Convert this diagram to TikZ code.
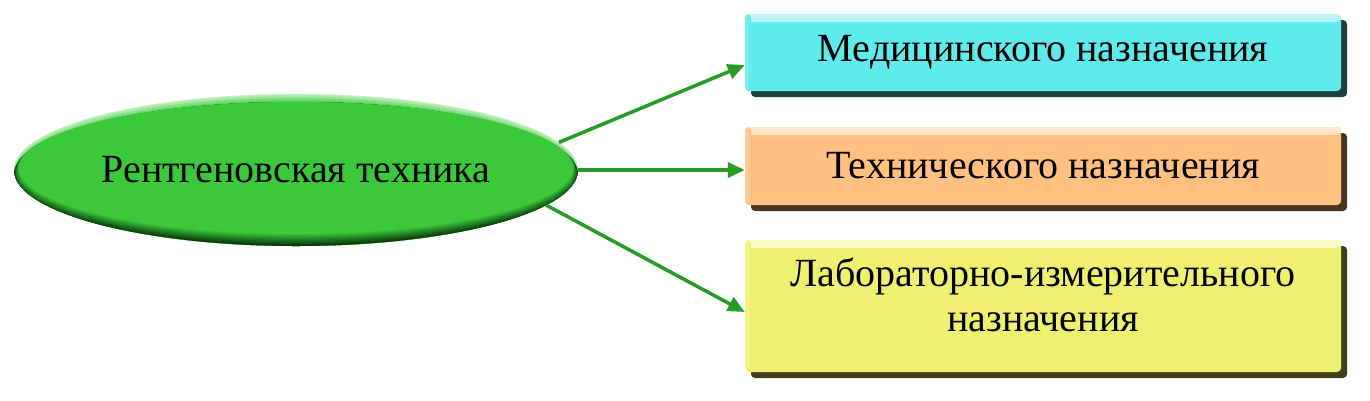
\documentclass[tikz,border=0pt]{standalone}
\usepackage{fontspec}
\setmainfont{Liberation Serif}
\usetikzlibrary{shapes.geometric,arrows.meta,shadows}
\definecolor{cyanface}{HTML}{5EEBEB}
\definecolor{cyandark}{HTML}{1E4040}
\definecolor{orface}{HTML}{FFC080}
\definecolor{ordark}{HTML}{4A3520}
\definecolor{yeface}{HTML}{F0F070}
\definecolor{yedark}{HTML}{3F3F1E}
\definecolor{gface}{HTML}{3BC93B}
\definecolor{gdark}{HTML}{0A380A}
\definecolor{glight}{HTML}{C0F0C0}
\definecolor{garrow}{HTML}{289A28}
\begin{document}
\begin{tikzpicture}[x=1pt,y=-1pt,
  labelfont/.style={font=\fontsize{40}{45}\selectfont, align=center},
  boxstyle/.style={rectangle, rounded corners=4pt, inner sep=0pt, minimum width=596pt,
    fill=#1face, labelfont,
    drop shadow={shadow xshift=6pt, shadow yshift=-6pt, fill=#1dark, opacity=1},
    path picture={\shade[top color=white!60!#1face, bottom color=#1face]
      (path picture bounding box.north west) rectangle ([yshift=-8pt]path picture bounding box.north east);
      \shade[left color=white!20!#1face, right color=#1face]
      (path picture bounding box.north west) rectangle ([xshift=6pt]path picture bounding box.south west);}},
  ellstyle/.style={ellipse, inner sep=0pt, minimum width=564pt, minimum height=152pt,
    labelfont,
    path picture={
      \fill[glight] (path picture bounding box.north west) rectangle (path picture bounding box.south east);
      \foreach \s in {0,...,8}{
        \pgfmathsetmacro{\mix}{100-\s*11}
        \fill[glight!\mix!gface] ([yshift=-\s pt]path picture bounding box.center) ellipse [x radius=282pt, y radius=76pt];}
      \foreach \k in {0,...,10}{
        \pgfmathsetmacro{\mix}{\k*10}
        \pgfmathsetmacro{\rx}{282-\k*0.5}
        \pgfmathsetmacro{\ry}{72-\k*0.6}
        \pgfmathsetmacro{\sh}{4-\k*0.6}
        \fill[gface!\mix!gdark] ([yshift=-\sh pt]path picture bounding box.center) ellipse [x radius=\rx pt, y radius=\ry pt];}
      }},
  arr/.style={draw=garrow, line width=3.5pt, -{Triangle[length=17pt,width=15pt]}}
]
\useasboundingbox (0,0) rectangle (1370,400);
\node[ellstyle] (ell) at (296,170) {Рентгеновская техника};
\node[boxstyle=cyan, minimum height=77pt] (b1) at (1043,52.5) {Медицинского назначения};
\node[boxstyle=or, minimum height=78pt] (b2) at (1043,166) {Технического назначения};
\node[boxstyle=ye, minimum height=132pt] (b3) at (1043,306) {};
\node[labelfont, inner sep=0pt] (b3t) at ([yshift=11pt]b3.center) {Лабораторно-измерительного\\назначения};
\draw[arr] (ell.6.6) -- ([yshift=-12.5pt]b1.west);
\draw[arr] (ell.0) -- ([yshift=-4pt]b2.west);
\draw[arr] (ell.-8.3) -- ([yshift=-6pt]b3.west);
\end{tikzpicture}
\end{document}
